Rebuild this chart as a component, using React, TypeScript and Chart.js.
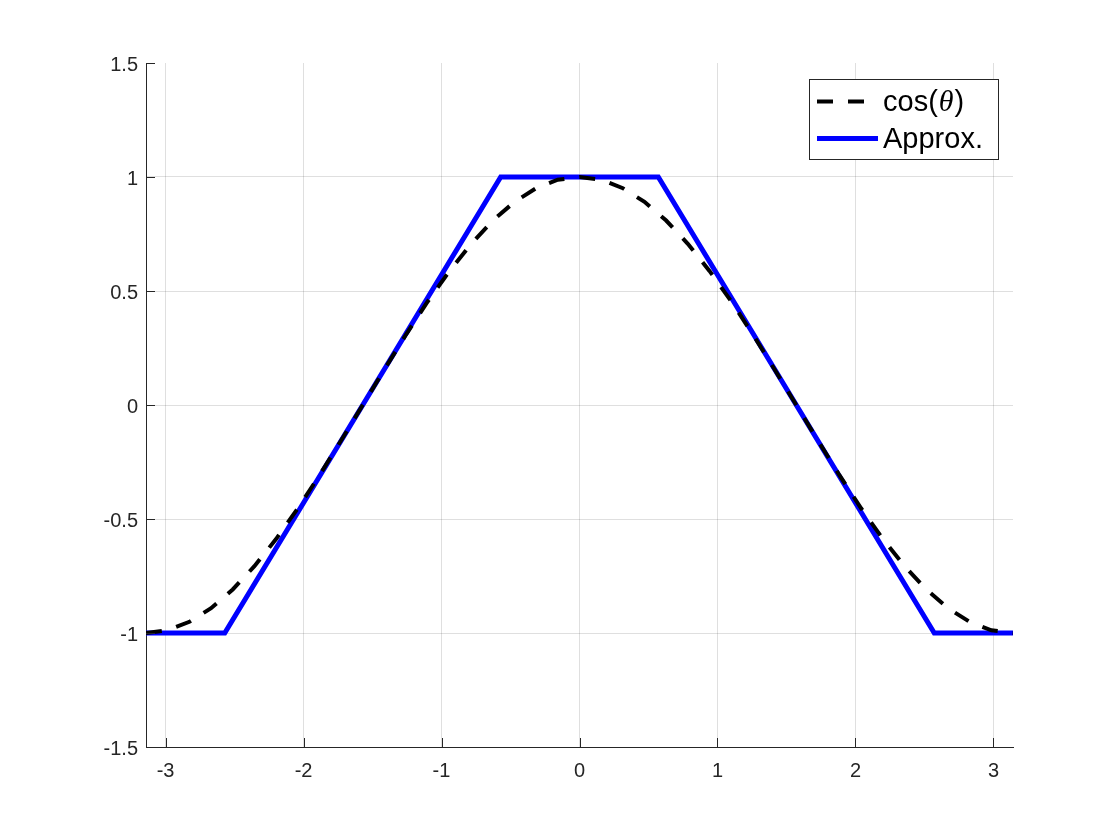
import React, { useEffect, useRef } from "react";
import { Chart, registerables } from "chart.js";

Chart.register(...registerables);

// ---- data ----
const X_LIMITS = [-3.1416, 3.1416];
const Y_LIMITS = [-1.5, 1.5];
const X_TICKS = [-3, -2, -1, 0, 1, 2, 3];
const X_TICK_LABELS = ["-3", "-2", "-1", "0", "1", "2", "3"];
const Y_TICKS = [-1.5, -1, -0.5, 0, 0.5, 1, 1.5];
const Y_TICK_LABELS = ["-1.5", "-1", "-0.5", "0", "0.5", "1", "1.5"];

const COS_X = [
  -3.142, -2.985, -2.827, -2.670, -2.513, -2.356, -2.199, -2.042, -1.885, -1.728,
  -1.571, -1.414, -1.257, -1.100, -0.942, -0.785, -0.628, -0.471, -0.314, -0.157,
  0,
  0.157, 0.314, 0.471, 0.628, 0.785, 0.942, 1.100, 1.257, 1.414, 1.571,
  1.728, 1.885, 2.042, 2.199, 2.356, 2.513, 2.670, 2.827, 2.985, 3.142,
];
const COS_Y = [
  -1, -0.988, -0.951, -0.891, -0.809, -0.707, -0.588, -0.454, -0.309, -0.156,
  0, 0.156, 0.309, 0.454, 0.588, 0.707, 0.809, 0.891, 0.951, 0.988,
  1,
  0.988, 0.951, 0.891, 0.809, 0.707, 0.588, 0.454, 0.309, 0.156, 0,
  -0.156, -0.309, -0.454, -0.588, -0.707, -0.809, -0.891, -0.951, -0.988, -1,
];
const APPROX_X = [-3.142, -2.571, -0.571, 0.571, 2.571, 3.142];
const APPROX_Y = [-1, -1, 1, 1, -1, -1];

const SERIES_LABELS = ["cos(θ)", "Approx."];

// ---- styles ----
const AXIS_COLOR = "#262626";
const GRID_COLOR = "rgba(38,38,38,0.15)";
const FONT = "'Liberation Sans', Arial, Helvetica, sans-serif";

const inwardTicks = {
  id: "inwardTicks",
  afterDraw(chart: any) {
    const { ctx, chartArea } = chart;
    const xs = chart.scales.x;
    const ys = chart.scales.y;
    const len = 9;
    ctx.save();
    ctx.strokeStyle = AXIS_COLOR;
    ctx.lineWidth = 1;
    ctx.beginPath();
    xs.ticks.forEach((t: any) => {
      const px = Math.round(xs.getPixelForValue(t.value)) + 0.5;
      ctx.moveTo(px, chartArea.bottom);
      ctx.lineTo(px, chartArea.bottom - len);
    });
    ys.ticks.forEach((t: any) => {
      const py = Math.round(ys.getPixelForValue(t.value)) + 0.5;
      ctx.moveTo(chartArea.left, py);
      ctx.lineTo(chartArea.left + len, py);
    });
    ctx.stroke();
    ctx.restore();
  },
};

const matlabLegend = {
  id: "matlabLegend",
  afterDraw(chart: any) {
    const { ctx } = chart;
    const box = { x: 809.5, y: 79.5, w: 189, h: 80 };
    ctx.save();
    ctx.fillStyle = "#ffffff";
    ctx.fillRect(box.x, box.y, box.w, box.h);
    ctx.strokeStyle = AXIS_COLOR;
    ctx.lineWidth = 1;
    ctx.strokeRect(box.x, box.y, box.w, box.h);
    const rows = [
      { lineY: 101.5, baseY: 110.5 },
      { lineY: 138.5, baseY: 147.5 },
    ];
    chart.data.datasets.forEach((ds: any, i: number) => {
      const r = rows[i];
      ctx.save();
      ctx.strokeStyle = ds.borderColor;
      ctx.lineWidth = ds.borderWidth;
      ctx.lineCap = "butt";
      ctx.setLineDash(ds.borderDash || []);
      ctx.beginPath();
      ctx.moveTo(817, r.lineY);
      ctx.lineTo(878, r.lineY);
      ctx.stroke();
      ctx.restore();
      // text, with greek letters in italic serif
      ctx.fillStyle = "#000000";
      ctx.textBaseline = "alphabetic";
      ctx.textAlign = "left";
      let x = 883;
      const parts = String(ds.label).split(/([\u0370-\u03ff])/);
      parts.forEach((p: string) => {
        if (!p) return;
        if (/[\u0370-\u03ff]/.test(p)) {
          ctx.font = "italic 30px 'Liberation Serif', 'Times New Roman', serif";
          x += 1;
          ctx.fillText(p, x, r.baseY);
          x += ctx.measureText(p).width + 1;
        } else {
          ctx.font = "29px " + FONT;
          ctx.fillText(p, x, r.baseY);
          x += ctx.measureText(p).width;
        }
      });
    });
    ctx.restore();
  },
};

export default function App() {
  const ref = useRef<HTMLCanvasElement | null>(null);

  useEffect(() => {
    if (!ref.current) return;
    const cosData = COS_X.map((x, i) => ({ x, y: COS_Y[i] }));
    const approxData = APPROX_X.map((x, i) => ({ x, y: APPROX_Y[i] }));
    const chart = new Chart(ref.current, {
      type: "line",
      data: {
        datasets: [
          {
            label: SERIES_LABELS[0],
            data: cosData,
            borderColor: "#000000",
            borderWidth: 4,
            borderDash: [16, 15],
            borderCapStyle: "butt",
            pointRadius: 0,
            fill: false,
            tension: 0,
          },
          {
            label: SERIES_LABELS[1],
            data: approxData,
            borderColor: "#0000ff",
            borderWidth: 5,
            borderJoinStyle: "miter",
            pointRadius: 0,
            fill: false,
            tension: 0,
          },
        ],
      },
      options: {
        responsive: false,
        animation: false,
        devicePixelRatio: 1,
        layout: { padding: { top: 63, right: 107, left: 0, bottom: 0 } },
        plugins: {
          legend: { display: false },
          tooltip: { enabled: false },
        },
        scales: {
          x: {
            type: "linear",
            min: X_LIMITS[0],
            max: X_LIMITS[1],
            afterBuildTicks: (scale: any) => {
              scale.ticks = X_TICKS.map((v) => ({ value: v }));
            },
            afterFit: (scale: any) => {
              scale.height = 93;
              scale.paddingLeft = 0;
              scale.paddingRight = 0;
            },
            ticks: {
              autoSkip: false,
              maxRotation: 0,
              padding: 12,
              color: AXIS_COLOR,
              font: { family: FONT, size: 20 },
              callback: (_v: any, i: number) => X_TICK_LABELS[i],
            },
            grid: {
              color: GRID_COLOR,
              lineWidth: 1,
              drawTicks: false,
            },
            border: { display: true, color: AXIS_COLOR, width: 1 },
          },
          y: {
            type: "linear",
            min: Y_LIMITS[0],
            max: Y_LIMITS[1],
            afterBuildTicks: (scale: any) => {
              scale.ticks = Y_TICKS.map((v) => ({ value: v }));
            },
            afterFit: (scale: any) => {
              scale.width = 146;
              scale.paddingTop = 0;
              scale.paddingBottom = 0;
            },
            ticks: {
              autoSkip: false,
              padding: 8,
              labelOffset: 2,
              color: AXIS_COLOR,
              font: { family: FONT, size: 20 },
              callback: (_v: any, i: number) => Y_TICK_LABELS[i],
            },
            grid: {
              color: (c: any) =>
                c.tick && c.tick.value === Y_LIMITS[1] ? "rgba(0,0,0,0)" : GRID_COLOR,
              lineWidth: 1,
              drawTicks: false,
            },
            border: { display: true, color: AXIS_COLOR, width: 1 },
          },
        },
      },
      plugins: [inwardTicks, matlabLegend],
    } as any);
    return () => chart.destroy();
  }, []);

  return (
    <div style={{ position: "absolute", left: 0, top: 0, width: 1120, height: 840, background: "#ffffff" }}>
      <canvas ref={ref} width={1120} height={840} style={{ display: "block" }} />
    </div>
  );
}
